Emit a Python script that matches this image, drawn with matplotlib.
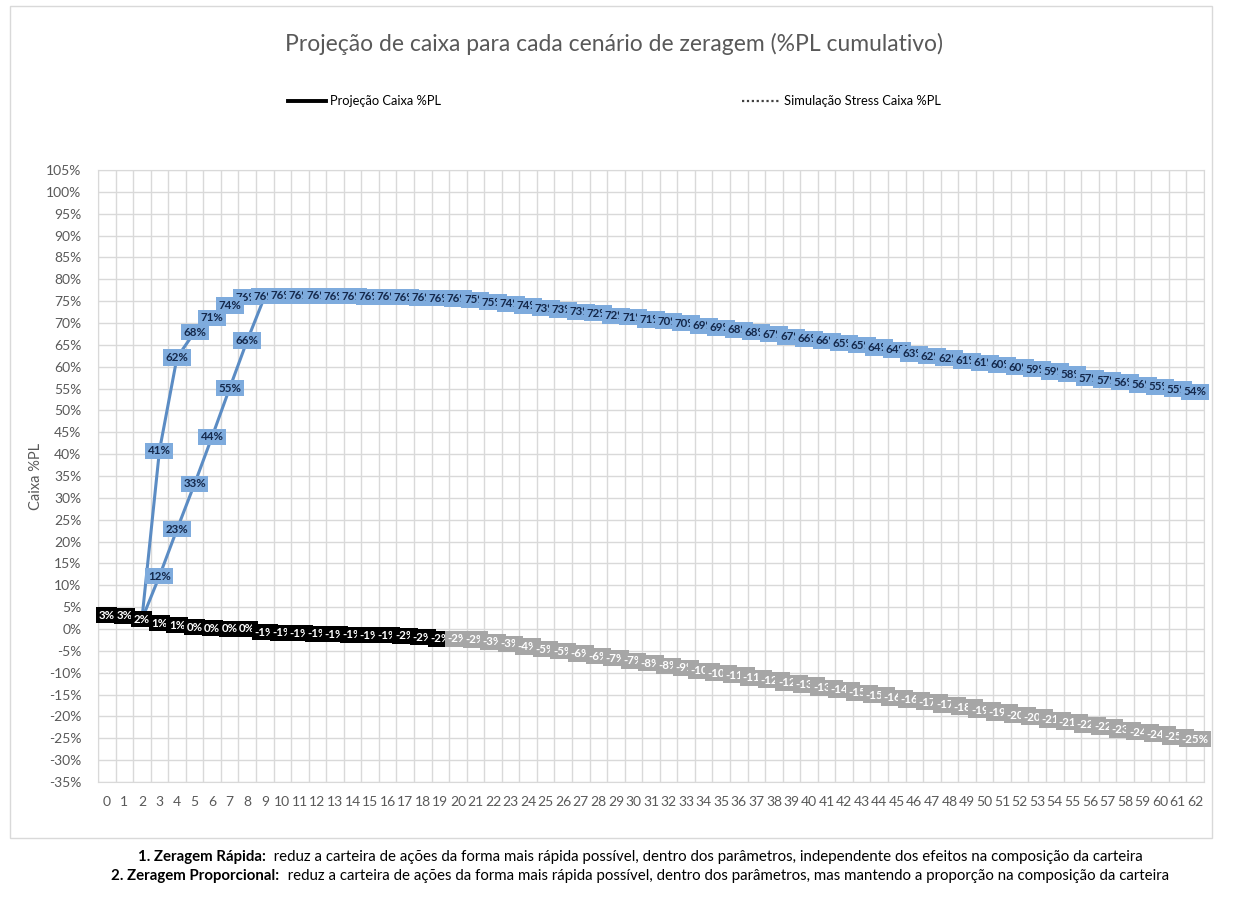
import matplotlib
matplotlib.use("Agg")
import matplotlib.pyplot as plt
from matplotlib.lines import Line2D
from matplotlib.patches import Rectangle
from matplotlib.ticker import MultipleLocator, FuncFormatter

plt.rcParams['font.family'] = ['Lato', 'DejaVu Sans']

CINZA_TEXTO = '#595959'
AZUL_LINHA = '#5B8CC4'
AZUL_ROTULO = '#7EABDD'
AZUL_TEXTO = '#14284B'
CINZA_ROTULO = '#A6A6A6'

dias = list(range(0, 63))

# Projeção Caixa %PL (dias 0-19)
projecao_x = list(range(0, 20))
projecao = [3.2, 3.0, 2.2, 1.3, 0.9, 0.4, 0.2, 0.1, 0.0, -0.7,
            -0.9, -1.0, -1.1, -1.2, -1.3, -1.4, -1.4, -1.6, -1.9, -2.2]

# Simulação Stress Caixa %PL (dias 20-62)
stress_x = list(range(20, 63))
stress = [-2.2, -2.4, -2.9, -3.4, -4.0, -4.6, -5.1, -5.6, -6.2, -6.7,
          -7.3, -7.8, -8.4, -8.9, -9.6, -10.1, -10.6, -11.2, -11.7, -12.3,
          -12.8, -13.4, -13.9, -14.6, -15.1, -15.7, -16.2, -16.8, -17.3, -17.9,
          -18.6, -19.1, -19.7, -20.2, -20.8, -21.3, -21.9, -22.4, -23.0, -23.6,
          -24.1, -24.7, -25.2]

# 1. Zeragem Rápida - subida (dias 2-7)
rapida_x = [2, 3, 4, 5, 6, 7]
rapida = [2.2, 40.8, 62.1, 67.9, 71.2, 74.0]

# 2. Zeragem Proporcional - subida (dias 2-8)
proporcional_x = [2, 3, 4, 5, 6, 7, 8]
proporcional = [2.2, 12.1, 22.8, 33.2, 44.0, 55.1, 66.0]

# carteira zerada - trecho comum (dias 8-62)
zerado_x = list(range(8, 63))
zerado = [75.9, 76.1, 76.2, 76.2, 76.2, 76.1, 76.1, 76.0, 76.0, 75.9,
          75.8, 75.7, 75.6, 75.3, 74.8, 74.4, 73.9, 73.4, 73.0, 72.6,
          72.2, 71.7, 71.3, 70.8, 70.4, 69.9, 69.4, 68.9, 68.4, 67.9,
          67.4, 66.9, 66.4, 65.9, 65.4, 64.9, 64.4, 63.9, 63.0, 62.4,
          61.9, 61.4, 60.9, 60.4, 59.9, 59.4, 58.9, 58.3, 57.4, 56.9,
          56.4, 55.9, 55.4, 54.9, 54.3]

titulo = 'Projeção de caixa para cada cenário de zeragem (%PL cumulativo)'
nota_1 = ('1. Zeragem Rápida:',
          '  reduz a carteira de ações da forma mais rápida possível, dentro dos parâmetros, '
          'independente dos efeitos na composição da carteira')
nota_2 = ('2. Zeragem Proporcional:',
          '  reduz a carteira de ações da forma mais rápida possível, dentro dos parâmetros, '
          'mas mantendo a proporção na composição da carteira')

W, H = 1244, 905
fig = plt.figure(figsize=(W / 100, H / 100), dpi=100)
ax = fig.add_axes([98 / W, 1 - 782 / H, (1204 - 98) / W, (782 - 170) / H])

# linhas das duas zeragens
ax.plot(rapida_x + zerado_x, rapida + zerado, color=AZUL_LINHA, lw=2.2, zorder=3)
ax.plot(proporcional_x + zerado_x[1:], proporcional + zerado[1:], color=AZUL_LINHA, lw=2.2, zorder=3)
ax.plot(projecao_x, projecao, color='black', lw=2, zorder=3)
ax.plot(stress_x, stress, color=CINZA_ROTULO, lw=2, ls=':', zorder=3)


def rotulos(xs, ys, fundo, cor, z):
    for x, y in zip(xs, ys):
        ax.text(x, y, f'{y:.0f}%', ha='center', va='center', fontsize=8.3,
                fontweight='bold', color=cor, zorder=z,
                bbox=dict(boxstyle='square,pad=0.22', fc=fundo, ec='none'))


rotulos(zerado_x, zerado, AZUL_ROTULO, AZUL_TEXTO, 4)
rotulos(rapida_x[1:], rapida[1:], AZUL_ROTULO, AZUL_TEXTO, 4)
rotulos(proporcional_x[1:], proporcional[1:], AZUL_ROTULO, AZUL_TEXTO, 4)
rotulos(projecao_x, projecao, 'black', 'white', 5)
rotulos(stress_x, stress, CINZA_ROTULO, 'white', 5)

ax.set_xlim(-0.5, 62.5)
ax.set_ylim(-35, 105)
ax.set_xticks(dias)
ax.set_xticklabels([str(d) for d in dias])
# grade vertical a cada meio dia
ax.set_xticks([d * 0.5 - 0.5 for d in range(127)], minor=True)
ax.yaxis.set_major_locator(MultipleLocator(5))
ax.yaxis.set_major_formatter(FuncFormatter(lambda v, p: f'{v:.0f}%'))
ax.grid(which='minor', axis='x', color='#D9D9D9', lw=1)
ax.grid(which='major', axis='y', color='#D9D9D9', lw=1)
ax.tick_params(which='both', length=0, colors=CINZA_TEXTO, labelsize=10)
ax.tick_params(axis='x', pad=10)
ax.tick_params(axis='y', pad=12)
for s in ax.spines.values():
    s.set_color('#D9D9D9')
ax.set_ylabel('Caixa %PL', color=CINZA_TEXTO, fontsize=10.5, labelpad=2)
ax.set_axisbelow(True)

# moldura do gráfico
fig.add_artist(Rectangle((10 / W, 1 - 838 / H), (1212 - 10) / W, (838 - 6) / H,
                         transform=fig.transFigure, fill=False, ec='#D9D9D9', lw=1))

fig.text(614 / W, 1 - 44 / H, titulo, ha='center', va='center',
         fontsize=16.5, color=CINZA_TEXTO)

# legenda
ly = 1 - 101 / H
fig.add_artist(Line2D([288 / W, 326 / W], [ly, ly], color='black', lw=2.8))
fig.text(330 / W, ly, 'Projeção Caixa %PL', va='center', fontsize=9.3, color='black')
fig.add_artist(Line2D([742 / W, 780 / W], [ly, ly], color='#404040', lw=1.6, ls=(0, (1, 1.2))))
fig.text(784 / W, ly, 'Simulação Stress Caixa %PL', va='center', fontsize=9.3, color='black')

# notas de rodapé: parte em negrito + texto normal, centralizadas
fig.canvas.draw()
renderer = fig.canvas.get_renderer()
for yp, (negrito, normal) in zip([857, 876], [nota_1, nota_2]):
    y = 1 - yp / H
    t1 = fig.text(0, y, negrito, fontsize=10.8, fontweight='bold', va='center')
    t2 = fig.text(0, y, normal, fontsize=10.8, va='center')
    w1 = t1.get_window_extent(renderer).width
    w2 = t2.get_window_extent(renderer).width
    x0 = 640 - (w1 + w2) / 2
    t1.set_x(x0 / W)
    t2.set_x((x0 + w1) / W)

fig.savefig('out.png', dpi=100)
